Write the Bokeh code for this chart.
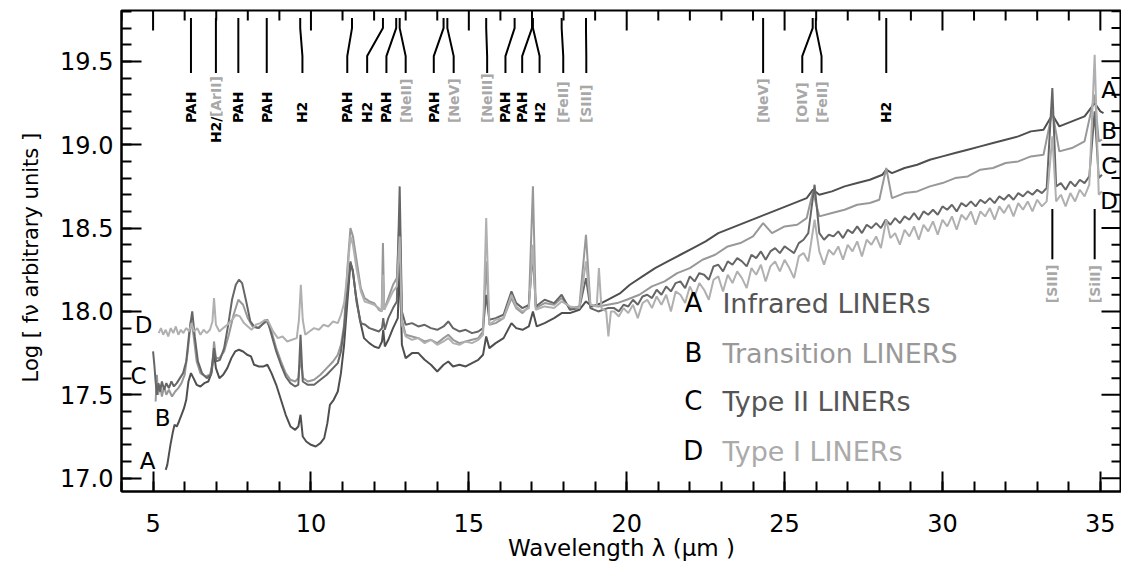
import numpy as np
from bokeh.plotting import figure
from bokeh.models import SingleIntervalTicker, PrintfTickFormatter, Range1d
from bokeh.embed import file_html
from bokeh.resources import INLINE
from bokeh.core.properties import value

FONT = "DejaVu Sans"

# ---------------- data ----------------
series_letters = ["A", "B", "C", "D"]
series_names = ["Infrared LINERs", "Transition LINERS", "Type II LINERs", "Type I   LINERs"]

x_major_ticks = [5, 10, 15, 20, 25, 30, 35]
y_major_ticks = [17.0, 17.5, 18.0, 18.5, 19.0, 19.5]

# (wavelength um, log f_nu)
spec_A = [
    (5.40, 17.05), (5.45, 17.08), (5.50, 17.14), (5.55, 17.20), (5.62, 17.27), (5.68, 17.32),
    (5.75, 17.31), (5.82, 17.34), (5.90, 17.38), (5.98, 17.42), (6.05, 17.47), (6.12, 17.58),
    (6.20, 17.63), (6.28, 17.60), (6.38, 17.56), (6.50, 17.55), (6.62, 17.57), (6.75, 17.58),
    (6.85, 17.63), (6.93, 17.75), (6.99, 17.66), (7.10, 17.60), (7.22, 17.62), (7.35, 17.66),
    (7.48, 17.72), (7.60, 17.76), (7.72, 17.77), (7.85, 17.76), (7.98, 17.74), (8.10, 17.73),
    (8.20, 17.68), (8.35, 17.67), (8.50, 17.67), (8.62, 17.68), (8.75, 17.63), (8.90, 17.56),
    (9.05, 17.47), (9.20, 17.38), (9.35, 17.31), (9.50, 17.29), (9.60, 17.31), (9.67, 17.38),
    (9.74, 17.25), (9.85, 17.22), (10.00, 17.20), (10.15, 17.19), (10.30, 17.21), (10.42, 17.24),
    (10.52, 17.33), (10.60, 17.44), (10.72, 17.47), (10.85, 17.52), (10.95, 17.63), (11.05, 17.80),
    (11.15, 18.05), (11.25, 18.29), (11.32, 18.25), (11.42, 18.10), (11.55, 17.95), (11.68, 17.84),
    (11.85, 17.81), (12.00, 17.79), (12.15, 17.78), (12.25, 17.82), (12.29, 17.89), (12.34, 17.79),
    (12.45, 17.83), (12.60, 17.90), (12.75, 17.96), (12.81, 18.30), (12.88, 17.80), (13.00, 17.72),
    (13.20, 17.75), (13.40, 17.75), (13.60, 17.71), (13.80, 17.68), (14.00, 17.64), (14.20, 17.68),
    (14.35, 17.70), (14.50, 17.67), (14.70, 17.68), (14.90, 17.67), (15.10, 17.69), (15.30, 17.71),
    (15.45, 17.74), (15.55, 17.85), (15.65, 17.78), (15.85, 17.81), (16.10, 17.84), (16.35, 17.93),
    (16.50, 17.90), (16.70, 17.89), (16.90, 17.91), (17.03, 18.00), (17.15, 17.91), (17.40, 17.93),
    (17.70, 17.96), (17.94, 17.99), (18.20, 17.99), (18.50, 18.01), (18.71, 18.06), (18.90, 18.03),
    (19.20, 18.05), (19.50, 18.08), (19.80, 18.11), (20.10, 18.16), (20.50, 18.21), (20.90, 18.26),
    (21.30, 18.30), (21.70, 18.34), (22.10, 18.38), (22.50, 18.42), (22.90, 18.47), (23.30, 18.50),
    (23.70, 18.53), (24.10, 18.56), (24.50, 18.59), (24.90, 18.62), (25.30, 18.65), (25.70, 18.68),
    (25.90, 18.73), (26.10, 18.70), (26.50, 18.72), (26.90, 18.75), (27.30, 18.77), (27.70, 18.79),
    (28.10, 18.82), (28.22, 18.85), (28.40, 18.83), (28.80, 18.86), (29.20, 18.88), (29.60, 18.91),
    (30.00, 18.93), (30.40, 18.95), (30.80, 18.97), (31.20, 18.99), (31.60, 19.01), (32.00, 19.03),
    (32.40, 19.05), (32.80, 19.08), (33.20, 19.09), (33.48, 19.18), (33.70, 19.11), (34.10, 19.14),
    (34.50, 19.17), (34.82, 19.25), (35.00, 19.20), (35.10, 19.19),
]

spec_B = [
    (5.08, 17.46), (5.12, 17.62), (5.16, 17.50), (5.22, 17.56), (5.28, 17.49), (5.35, 17.55),
    (5.42, 17.50), (5.50, 17.53), (5.60, 17.49), (5.70, 17.52), (5.80, 17.54), (5.90, 17.57),
    (6.00, 17.62), (6.10, 17.76), (6.20, 17.95), (6.28, 17.86), (6.38, 17.70), (6.50, 17.63),
    (6.65, 17.61), (6.80, 17.62), (6.88, 17.68), (6.93, 17.82), (6.99, 17.72), (7.10, 17.72),
    (7.25, 17.76), (7.40, 17.86), (7.55, 17.98), (7.70, 18.07), (7.85, 18.04), (8.00, 17.96),
    (8.15, 17.91), (8.30, 17.90), (8.45, 17.92), (8.60, 17.94), (8.75, 17.88), (8.90, 17.78),
    (9.05, 17.70), (9.20, 17.63), (9.35, 17.59), (9.50, 17.58), (9.60, 17.60), (9.67, 17.72),
    (9.75, 17.60), (9.90, 17.58), (10.10, 17.59), (10.30, 17.62), (10.50, 17.66), (10.70, 17.70),
    (10.85, 17.74), (10.95, 17.80), (11.05, 17.92), (11.15, 18.25), (11.25, 18.50), (11.33, 18.45),
    (11.45, 18.30), (11.58, 18.14), (11.70, 18.08), (11.85, 18.06), (12.00, 18.05), (12.15, 18.01),
    (12.24, 18.00), (12.28, 18.41), (12.32, 18.01), (12.45, 18.08), (12.60, 18.16), (12.72, 18.20),
    (12.81, 18.60), (12.88, 17.95), (13.00, 17.86), (13.20, 17.85), (13.40, 17.84), (13.60, 17.82),
    (13.80, 17.83), (14.00, 17.81), (14.20, 17.84), (14.35, 17.86), (14.50, 17.83), (14.70, 17.81),
    (14.90, 17.82), (15.10, 17.83), (15.30, 17.84), (15.45, 17.88), (15.55, 18.30), (15.65, 17.92),
    (15.85, 17.93), (16.10, 17.96), (16.35, 18.08), (16.50, 18.02), (16.70, 17.99), (16.90, 18.03),
    (17.03, 18.75), (17.12, 18.02), (17.40, 18.05), (17.70, 18.04), (17.94, 18.08), (18.20, 18.02),
    (18.50, 18.03), (18.71, 18.46), (18.85, 18.04), (19.10, 18.03), (19.40, 18.04), (19.70, 18.05),
    (20.00, 18.07), (20.40, 18.10), (20.80, 18.15), (21.20, 18.18), (21.60, 18.23), (22.00, 18.26),
    (22.40, 18.31), (22.80, 18.34), (23.20, 18.39), (23.60, 18.41), (24.00, 18.45), (24.32, 18.53),
    (24.60, 18.47), (25.00, 18.51), (25.40, 18.52), (25.70, 18.56), (25.90, 18.72), (26.10, 18.57),
    (26.50, 18.59), (26.90, 18.61), (27.30, 18.64), (27.70, 18.65), (28.00, 18.67), (28.22, 18.86),
    (28.40, 18.68), (28.80, 18.71), (29.20, 18.72), (29.60, 18.75), (30.00, 18.77), (30.40, 18.80),
    (30.80, 18.81), (31.20, 18.85), (31.60, 18.86), (32.00, 18.89), (32.40, 18.90), (32.80, 18.93),
    (33.20, 18.94), (33.48, 19.20), (33.70, 18.96), (34.10, 18.98), (34.50, 19.02), (34.82, 19.30),
    (34.95, 19.02), (35.05, 19.03),
]

spec_C = [
    (5.00, 17.76), (5.04, 17.68), (5.08, 17.58), (5.12, 17.50), (5.17, 17.57), (5.22, 17.52),
    (5.28, 17.58), (5.35, 17.53), (5.42, 17.57), (5.50, 17.54), (5.58, 17.58), (5.66, 17.55),
    (5.75, 17.57), (5.85, 17.60), (5.95, 17.63), (6.05, 17.70), (6.15, 17.88), (6.24, 18.00),
    (6.32, 17.85), (6.42, 17.70), (6.55, 17.63), (6.70, 17.60), (6.83, 17.62), (6.93, 17.78),
    (7.00, 17.70), (7.12, 17.71), (7.25, 17.78), (7.38, 17.92), (7.50, 18.07), (7.62, 18.16),
    (7.72, 18.19), (7.82, 18.17), (7.95, 18.06), (8.08, 17.94), (8.20, 17.91), (8.35, 17.90),
    (8.50, 17.93), (8.62, 17.95), (8.75, 17.86), (8.90, 17.76), (9.05, 17.68), (9.20, 17.61),
    (9.35, 17.57), (9.50, 17.55), (9.60, 17.56), (9.67, 17.86), (9.74, 17.58), (9.90, 17.56),
    (10.10, 17.56), (10.30, 17.59), (10.50, 17.62), (10.70, 17.66), (10.85, 17.69), (10.95, 17.76),
    (11.05, 17.90), (11.15, 18.12), (11.25, 18.30), (11.33, 18.24), (11.45, 18.05), (11.58, 17.93),
    (11.72, 17.92), (11.85, 17.90), (12.00, 17.89), (12.15, 17.88), (12.25, 17.90), (12.29, 17.96),
    (12.34, 17.89), (12.45, 17.96), (12.60, 18.02), (12.72, 18.06), (12.81, 18.75), (12.88, 18.00),
    (13.00, 17.92), (13.20, 17.93), (13.40, 17.91), (13.60, 17.92), (13.80, 17.90), (14.00, 17.89),
    (14.20, 17.91), (14.35, 17.94), (14.50, 17.90), (14.70, 17.88), (14.90, 17.89), (15.10, 17.87),
    (15.30, 17.88), (15.45, 17.90), (15.55, 18.10), (15.65, 17.95), (15.85, 17.96), (16.10, 17.98),
    (16.35, 18.12), (16.50, 18.05), (16.70, 18.02), (16.90, 18.04), (17.03, 18.35), (17.12, 18.03),
    (17.40, 18.07), (17.70, 18.05), (17.94, 18.10), (18.20, 18.01), (18.50, 18.02), (18.71, 18.20),
    (18.85, 18.02), (19.10, 18.00), (19.40, 18.02),
    (19.60, 18.02), (19.75, 18.00), (19.90, 18.04), (20.05, 18.03), (20.20, 18.07), (20.35, 18.04),
    (20.50, 18.09), (20.65, 18.10), (20.80, 18.08), (20.95, 18.13), (21.10, 18.10), (21.25, 18.15),
    (21.40, 18.12), (21.55, 18.17), (21.70, 18.18), (21.85, 18.14), (22.00, 18.21), (22.15, 18.18),
    (22.30, 18.23), (22.45, 18.22), (22.60, 18.19), (22.75, 18.27), (22.90, 18.28), (23.05, 18.24),
    (23.20, 18.30), (23.35, 18.28), (23.50, 18.32), (23.65, 18.30), (23.80, 18.27), (23.95, 18.34),
    (24.10, 18.32), (24.25, 18.36), (24.40, 18.31), (24.55, 18.36), (24.70, 18.38), (24.85, 18.35),
    (25.00, 18.39), (25.15, 18.37), (25.30, 18.35), (25.45, 18.41), (25.60, 18.43), (25.75, 18.47),
    (25.95, 18.76), (26.10, 18.47), (26.25, 18.43), (26.40, 18.46), (26.55, 18.45), (26.70, 18.48),
    (26.85, 18.44), (27.00, 18.49), (27.15, 18.47), (27.30, 18.51), (27.45, 18.47), (27.60, 18.52),
    (27.75, 18.50), (27.90, 18.53), (28.05, 18.50), (28.20, 18.55), (28.35, 18.52), (28.50, 18.56),
    (28.65, 18.53), (28.80, 18.57), (28.95, 18.55), (29.10, 18.59), (29.25, 18.55), (29.40, 18.60),
    (29.55, 18.58), (29.70, 18.61), (29.85, 18.58), (30.00, 18.63), (30.15, 18.61), (30.30, 18.64),
    (30.45, 18.60), (30.60, 18.65), (30.75, 18.63), (30.90, 18.66), (31.05, 18.63), (31.20, 18.67),
    (31.35, 18.65), (31.50, 18.68), (31.65, 18.65), (31.80, 18.69), (31.95, 18.67), (32.10, 18.70),
    (32.25, 18.67), (32.40, 18.71), (32.55, 18.69), (32.70, 18.72), (32.85, 18.70), (33.00, 18.73),
    (33.15, 18.71), (33.30, 18.74), (33.48, 19.34), (33.60, 18.75), (33.75, 18.77), (33.90, 18.73),
    (34.05, 18.78), (34.20, 18.75), (34.35, 18.79), (34.50, 18.77), (34.65, 18.81), (34.82, 19.20),
    (34.95, 18.80), (35.05, 18.82),
]

spec_D = [
    (5.18, 17.87), (5.25, 17.90), (5.32, 17.86), (5.40, 17.89), (5.48, 17.85), (5.56, 17.90),
    (5.64, 17.87), (5.72, 17.91), (5.80, 17.86), (5.88, 17.89), (5.96, 17.87), (6.05, 17.90),
    (6.14, 17.88), (6.22, 17.93), (6.30, 17.88), (6.40, 17.90), (6.50, 17.86), (6.60, 17.89),
    (6.70, 17.87), (6.80, 17.89), (6.88, 17.94), (6.93, 18.08), (6.99, 17.92), (7.10, 17.88),
    (7.22, 17.90), (7.35, 17.92), (7.50, 17.95), (7.62, 17.98), (7.75, 17.97), (7.88, 17.93),
    (8.00, 17.91), (8.12, 17.89), (8.25, 17.92), (8.40, 17.93), (8.55, 17.95), (8.65, 17.94),
    (8.80, 17.88), (8.95, 17.84), (9.10, 17.85), (9.25, 17.82), (9.40, 17.83), (9.55, 17.84),
    (9.62, 17.95), (9.68, 18.16), (9.74, 17.95), (9.82, 17.86), (9.95, 17.88), (10.10, 17.90),
    (10.25, 17.89), (10.40, 17.92), (10.55, 17.91), (10.70, 17.94), (10.85, 17.93), (10.95, 17.98),
    (11.05, 18.05), (11.15, 18.22), (11.25, 18.45), (11.33, 18.40), (11.45, 18.25), (11.58, 18.12),
    (11.70, 18.06), (11.85, 18.05), (12.00, 18.04), (12.15, 18.02), (12.24, 18.00), (12.28, 18.22),
    (12.32, 18.01), (12.45, 18.06), (12.60, 18.12), (12.72, 18.15), (12.81, 18.45), (12.88, 17.92),
    (13.00, 17.85), (13.20, 17.83), (13.40, 17.84), (13.60, 17.81), (13.80, 17.83), (14.00, 17.80),
    (14.20, 17.82), (14.35, 17.84), (14.50, 17.81), (14.70, 17.80), (14.90, 17.82), (15.10, 17.81),
    (15.30, 17.83), (15.45, 17.86), (15.55, 18.56), (15.65, 17.92), (15.85, 17.95), (16.10, 17.96),
    (16.35, 18.10), (16.50, 18.03), (16.70, 18.00), (16.90, 18.02), (17.03, 18.40), (17.12, 18.01),
    (17.40, 18.03), (17.70, 18.02), (17.94, 18.06), (18.20, 18.03), (18.50, 18.02), (18.71, 18.30),
    (18.85, 18.04), (19.05, 18.03), (19.12, 18.26), (19.20, 18.02), (19.35, 18.00), (19.42, 17.85),
    (19.50, 18.00),
    (19.60, 18.00), (19.75, 17.97), (19.90, 18.02), (20.05, 17.99), (20.20, 18.04), (20.35, 17.96),
    (20.50, 18.05), (20.65, 18.07), (20.80, 18.02), (20.95, 18.09), (21.10, 18.04), (21.25, 18.10),
    (21.40, 18.00), (21.55, 18.12), (21.70, 18.10), (21.85, 18.05), (22.00, 18.15), (22.15, 18.09),
    (22.30, 18.17), (22.45, 18.13), (22.60, 18.07), (22.75, 18.19), (22.90, 18.21), (23.05, 18.12),
    (23.20, 18.22), (23.35, 18.17), (23.50, 18.24), (23.65, 18.20), (23.80, 18.14), (23.95, 18.26),
    (24.10, 18.22), (24.25, 18.28), (24.40, 18.18), (24.55, 18.27), (24.70, 18.30), (24.85, 18.24),
    (25.00, 18.31), (25.15, 18.26), (25.30, 18.20), (25.45, 18.33), (25.60, 18.35), (25.75, 18.30),
    (25.95, 18.55), (26.10, 18.36), (26.25, 18.28), (26.40, 18.37), (26.55, 18.34), (26.70, 18.39),
    (26.85, 18.31), (27.00, 18.40), (27.15, 18.36), (27.30, 18.42), (27.45, 18.33), (27.60, 18.43),
    (27.75, 18.40), (27.90, 18.45), (28.05, 18.38), (28.22, 18.55), (28.35, 18.44), (28.50, 18.47),
    (28.65, 18.40), (28.80, 18.49), (28.95, 18.45), (29.10, 18.51), (29.25, 18.43), (29.40, 18.52),
    (29.55, 18.48), (29.70, 18.54), (29.85, 18.46), (30.00, 18.55), (30.15, 18.51), (30.30, 18.57),
    (30.45, 18.49), (30.60, 18.58), (30.75, 18.55), (30.90, 18.60), (31.05, 18.52), (31.20, 18.60),
    (31.35, 18.57), (31.50, 18.62), (31.65, 18.55), (31.80, 18.63), (31.95, 18.59), (32.10, 18.64),
    (32.25, 18.57), (32.40, 18.65), (32.55, 18.61), (32.70, 18.66), (32.85, 18.60), (33.00, 18.67),
    (33.15, 18.63), (33.30, 18.66), (33.48, 19.05), (33.60, 18.66), (33.75, 18.70), (33.90, 18.63),
    (34.05, 18.71), (34.20, 18.66), (34.35, 18.73), (34.50, 18.69), (34.65, 18.76), (34.82, 19.54),
    (34.95, 18.70), (35.05, 18.72),
]

# emission / PAH features marked at the top
feature_ids = ["PAH", "[ArII]", "PAH", "PAH", "H2", "PAH", "H2", "PAH", "[NeII]", "PAH", "[NeV]",
               "[NeIII]", "PAH", "PAH", "H2", "[FeII]", "[SIII]", "[NeV]", "[OIV]", "[FeII]", "H2"]
feature_wl = [6.2, 6.99, 7.7, 8.6, 9.66, 11.3, 12.28, 12.7, 12.81, 14.2, 14.32,
              15.55, 16.45, 17.0, 17.03, 17.94, 18.71, 24.32, 25.89, 25.99, 28.22]
feature_label_wl = [6.2, 6.99, 7.7, 8.6, 9.73, 11.15, 11.78, 12.39, 13.0, 13.89, 14.52,
                    15.58, 16.16, 16.69, 17.24, 17.99, 18.72, 24.32, 25.56, 26.17, 28.22]
# features marked lower down, near the long-wavelength end
low_feature_ids = ["[SIII]", "[SiII]"]
low_feature_wl = [33.48, 34.82]

# ---------------- styling / layout ----------------
line_colors = ["#4f4f4f", "#989898", "#666666", "#b0b0b0"]
text_colors = ["#555555", "#999999", "#555555", "#aaaaaa"]
GRAY_LABEL = "#a8a8a8"

X0, X1 = 4.0, 35.67
Y0, Y1 = 16.92, 19.805


def ypx(v):  # convert a reference pixel row to data units (layout helper)
    return 17.0 + (477.0 - v) / 166.7


W, H = 1121, 564
p = figure(width=W, height=H, output_backend="svg", toolbar_location=None,
           x_range=Range1d(X0, X1), y_range=Range1d(Y0, Y1),
           min_border_left=121, min_border_right=0, min_border_top=10, min_border_bottom=73)
p.grid.visible = False
p.outline_line_color = "black"
p.outline_line_width = 2
p.background_fill_color = "white"
p.border_fill_color = "white"


def style_axis(ax):
    ax.axis_line_width = 2
    ax.axis_line_color = "black"
    ax.major_tick_in = 20
    ax.major_tick_out = 0
    ax.minor_tick_in = 10
    ax.minor_tick_out = 0
    ax.major_tick_line_width = 2
    ax.minor_tick_line_width = 2
    ax.major_tick_line_color = "black"
    ax.minor_tick_line_color = "black"
    ax.major_label_text_font = FONT
    ax.major_label_text_font_size = "24px"
    ax.major_label_text_color = "black"
    ax.axis_label_text_font = FONT
    ax.axis_label_text_font_style = "normal"
    ax.axis_label_text_color = "black"


xa = p.xaxis[0]
xa.ticker = SingleIntervalTicker(interval=5, num_minor_ticks=5)
style_axis(xa)
xa.major_label_standoff = 22
xa.axis_label = "Wavelength \u03bb (\u03bcm )"
xa.axis_label_text_font_size = "23px"
xa.axis_label_standoff = 0

ya = p.yaxis[0]
ya.ticker = SingleIntervalTicker(interval=0.5, num_minor_ticks=5)
style_axis(ya)
ya.formatter = PrintfTickFormatter(format="%.1f")
ya.major_label_standoff = 8
ya.axis_label = "Log [ f\u03bd   arbitrary units ]"
ya.axis_label_text_font_size = "21px"
ya.axis_label_standoff = 14

# mirrored ticks on the top and right edges (half of each bar is clipped by the frame)
x_minor = [v for v in np.arange(np.ceil(X0), X1, 1.0) if v not in x_major_ticks]
y_minor = [round(v, 1) for v in np.arange(17.0, Y1, 0.1) if round(v, 1) not in y_major_ticks]
p.rect(x=x_major_ticks, y=[Y1] * len(x_major_ticks), width=2, height=40,
       width_units="screen", height_units="screen", fill_color="black", line_color=None)
p.rect(x=x_minor, y=[Y1] * len(x_minor), width=2, height=20,
       width_units="screen", height_units="screen", fill_color="black", line_color=None)
p.rect(x=[X1] * len(y_major_ticks), y=y_major_ticks, width=40, height=2,
       width_units="screen", height_units="screen", fill_color="black", line_color=None)
p.rect(x=[X1] * len(y_minor), y=y_minor, width=20, height=2,
       width_units="screen", height_units="screen", fill_color="black", line_color=None)

# spectra
for spec, col in zip([spec_A, spec_B, spec_C, spec_D], line_colors):
    wl, val = zip(*spec)
    p.line(list(wl), list(val), line_color=col, line_width=2)

# feature markers at top
n = len(feature_ids)
y0, y1, y2, y3 = ypx(17), ypx(27), ypx(55), ypx(72)
p.multi_line(xs=[[t, t, l, l] for t, l in zip(feature_wl, feature_label_wl)],
             ys=[[y0, y1, y2, y3] for _ in range(n)],
             line_color="black", line_width=2)
feat_colors = [GRAY_LABEL if s.startswith("[") else "black" for s in feature_ids]
feat_bottom = [ypx(116) if s == "[ArII]" else ypx(122) for s in feature_ids]
p.text(x=feature_label_wl, y=feat_bottom, text=feature_ids, angle=np.pi / 2,
       text_align="left", text_baseline="middle", text_font=value(FONT),
       text_font_style="bold", text_font_size="14px", text_color=feat_colors)
# "H2/" prefix of the H2/[ArII] blend
p.text(x=[feature_label_wl[1]], y=[ypx(142)], text=["H2/"], angle=np.pi / 2,
       text_align="left", text_baseline="middle", text_font=value(FONT),
       text_font_style="bold", text_font_size="14px", text_color="black")

# low markers
p.multi_line(xs=[[w, w] for w in low_feature_wl],
             ys=[[ypx(208), ypx(258)] for _ in low_feature_wl],
             line_color="black", line_width=2)
p.text(x=low_feature_wl, y=[ypx(302)] * len(low_feature_wl), text=low_feature_ids, angle=np.pi / 2,
       text_align="left", text_baseline="middle", text_font=value(FONT),
       text_font_style="bold", text_font_size="14px", text_color=GRAY_LABEL)

# legend block
leg_letter_x, leg_text_x = 22.11, 23.03
leg_y = [ypx(302), ypx(352), ypx(400), ypx(450)]
p.text(x=[leg_letter_x] * 4, y=leg_y, text=series_letters, text_align="center",
       text_baseline="middle", text_font=value(FONT), text_font_size="26px", text_color="black")
p.text(x=[leg_text_x] * 4, y=leg_y, text=series_names, text_align="left",
       text_baseline="middle", text_font=value(FONT), text_font_size="27px", text_color=text_colors)

# letters at curve ends
left_pos = [(4.83, 17.10), (5.30, 17.36), (4.54, 17.61), (4.70, 17.92)]
right_pos = [(35.28, 19.33), (35.28, 19.08), (35.28, 18.87), (35.28, 18.66)]
for pos in (left_pos, right_pos):
    p.text(x=[q[0] for q in pos], y=[q[1] for q in pos], text=series_letters,
           text_align="center", text_baseline="middle", text_font=value(FONT),
           text_font_size="23px", text_color="black")

open("out.html", "w").write(file_html(p, INLINE))
